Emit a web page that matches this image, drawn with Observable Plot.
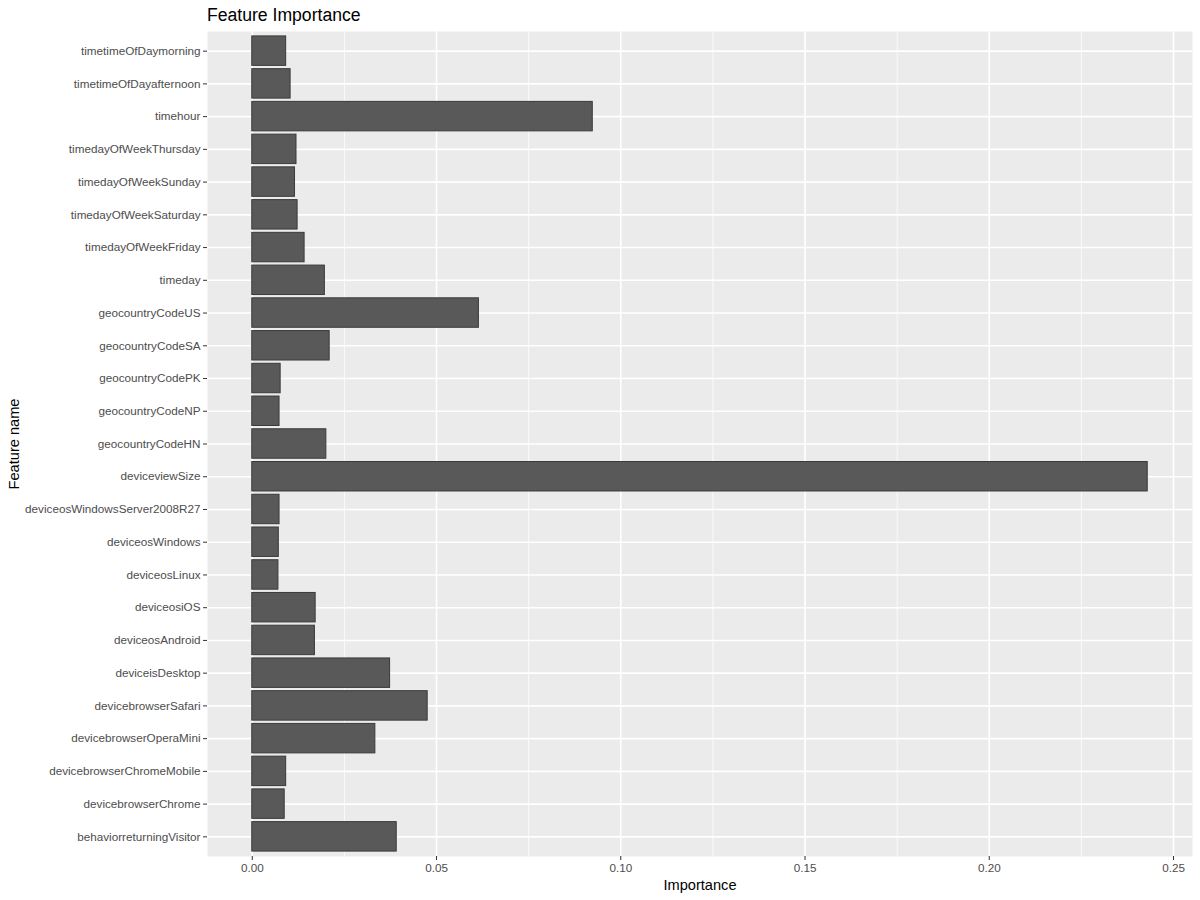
<!DOCTYPE html>
<html>
<head>
<meta charset="utf-8">
<script src="https://cdn.jsdelivr.net/npm/d3@7"></script>
<script src="https://cdn.jsdelivr.net/npm/@observablehq/plot@0.6"></script>
<style>
  html, body { margin: 0; padding: 0; background: #ffffff; }
  body { width: 1200px; height: 900px; overflow: hidden; font-family: Helvetica, "Liberation Sans", Arial, sans-serif; }
  #title { height: 26px; padding-left: 207px; font-size: 17.6px; line-height: 30px; color: #000; box-sizing: border-box; }
</style>
</head>
<body>
<div id="title">Feature Importance</div>
<div id="chart"></div>
<script>
const features = [
  "timetimeOfDaymorning",
  "timetimeOfDayafternoon",
  "timehour",
  "timedayOfWeekThursday",
  "timedayOfWeekSunday",
  "timedayOfWeekSaturday",
  "timedayOfWeekFriday",
  "timeday",
  "geocountryCodeUS",
  "geocountryCodeSA",
  "geocountryCodePK",
  "geocountryCodeNP",
  "geocountryCodeHN",
  "deviceviewSize",
  "deviceosWindowsServer2008R27",
  "deviceosWindows",
  "deviceosLinux",
  "deviceosiOS",
  "deviceosAndroid",
  "deviceisDesktop",
  "devicebrowserSafari",
  "devicebrowserOperaMini",
  "devicebrowserChromeMobile",
  "devicebrowserChrome",
  "behaviorreturningVisitor"
];
const importance = [
  0.0092, 0.0104, 0.0924, 0.0120, 0.0116, 0.0123, 0.0142, 0.0197,
  0.0615, 0.0210, 0.0077, 0.0074, 0.0201, 0.2430, 0.0074, 0.0072,
  0.0071, 0.0172, 0.0170, 0.0374, 0.0476, 0.0334, 0.0092, 0.0088,
  0.0392
];
const xTicks = [0, 0.05, 0.10, 0.15, 0.20, 0.25];
const xMinorTicks = [0.025, 0.075, 0.125, 0.175, 0.225];
const xLabel = "Importance";
const yLabel = "Feature name";

const data = features.map((f, i) => ({feature: f, value: importance[i]}));
const maxV = d3.max(importance);
const pad = maxV * 0.05;

const chart = Plot.plot({
  width: 1200,
  height: 874,
  marginLeft: 207,
  marginRight: 8,
  marginTop: 5,
  marginBottom: 44,
  style: {fontFamily: 'Helvetica, "Liberation Sans", Arial, sans-serif', background: "#ffffff"},
  x: {domain: [-pad, maxV + pad], label: null},
  y: {domain: features, paddingInner: 0.1, paddingOuter: 0.15, round: false, label: null},
  marks: [
    Plot.frame({fill: "#EBEBEB", stroke: null}),
    Plot.ruleX(xMinorTicks, {stroke: "#ffffff", strokeWidth: 0.8}),
    Plot.ruleX(xTicks, {stroke: "#ffffff", strokeWidth: 1.6}),
    Plot.ruleY(features, {y: d => d, stroke: "#ffffff", strokeWidth: 1.6}),
    Plot.barX(data, {x: "value", y: "feature", fill: "#595959", stroke: "#3a3a3a", strokeWidth: 1}),
    Plot.axisX({ticks: xTicks, tickFormat: d3.format(".2f"), tickSize: 4, tickPadding: 3, fontSize: 11.7, fill: "#4D4D4D", stroke: "#333333", label: null}),
    Plot.axisY({tickSize: 4, tickPadding: 3, fontSize: 11.7, fill: "#4D4D4D", stroke: "#333333", label: null}),
    Plot.text([xLabel], {frameAnchor: "bottom", dy: 33, fontSize: 14.6, fill: "#000000", text: d => d}),
    Plot.text([yLabel], {frameAnchor: "left", dx: -193, rotate: -90, textAnchor: "middle", fontSize: 14.6, fill: "#000000", text: d => d})
  ]
});
document.getElementById("chart").appendChild(chart);
</script>
</body>
</html>
